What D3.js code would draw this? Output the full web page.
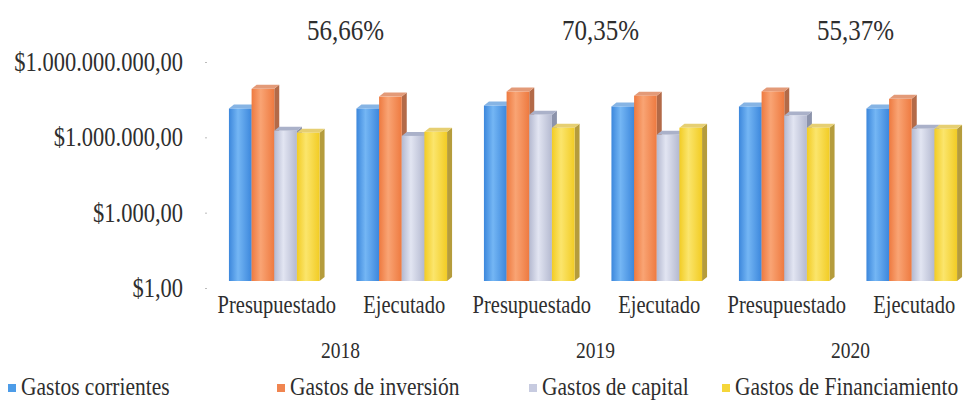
<!DOCTYPE html>
<html>
<head>
<meta charset="utf-8">
<script src="https://cdn.jsdelivr.net/npm/d3@7"></script>
<style>
  html, body { margin: 0; padding: 0; background: #fff; }
  svg { display: block; }
  svg text { font-family: "Liberation Serif", "Times New Roman", serif !important; fill: #2e2e2e; }
</style>
</head>
<body>
<svg id="chart" width="975" height="409"></svg>
<script>
// Gastos por vigencia: presupuestado vs. ejecutado (escala logarítmica)
const years = ["2018", "2019", "2020"];
const stages = ["Presupuestado", "Ejecutado"];
const seriesNames = ["Gastos corrientes", "Gastos de inversión", "Gastos de capital", "Gastos de Financiamiento"];

// one value per year/stage pair: 2018 P, 2018 E, 2019 P, 2019 E, 2020 P, 2020 E
const gastosCorrientes      = [7.4e6, 7.4e6, 9.7e6, 8.9e6, 8.9e6, 7.4e6];
const gastosInversion       = [4.5e7, 2.2e7, 3.5e7, 2.4e7, 3.55e7, 1.8e7];
const gastosCapital         = [9.6e5, 6.0e5, 4.2e6, 6.6e5, 3.9e6, 1.15e6];
const gastosFinanciamiento  = [8.0e5, 8.8e5, 1.27e6, 1.27e6, 1.27e6, 1.15e6];

const ejecucion = ["56,66%", "70,35%", "55,37%"];
const yTicks = [1, 1e3, 1e6, 1e9];

const seriesValues = [gastosCorrientes, gastosInversion, gastosCapital, gastosFinanciamiento];

// palette: [dark edge, light centre, top face, side face, legend]
const palette = [
  ["#3c87dc", "#74b6f4", "#86b4e4", "#3a74b8", "#4d9ce8"],
  ["#ee7a40", "#f9a474", "#e39a78", "#b36a48", "#f08550"],
  ["#b4b9d0", "#e2e5f2", "#aab1c9", "#8c93ab", "#c7cbe0"],
  ["#f2cc24", "#fbe56c", "#e6cf72", "#b59c3c", "#f5d63a"]
];
const textStretch = 1.18;   // tall, narrow lettering

const groups = [];
years.forEach(y => stages.forEach(s => groups.push(y + "|" + s)));

const svg = d3.select("#chart");
const defs = svg.append("defs");
palette.forEach((p, i) => {
  const g = defs.append("linearGradient").attr("id", "grad" + i)
    .attr("x1", "0%").attr("x2", "100%").attr("y1", "0%").attr("y2", "0%");
  g.append("stop").attr("offset", "0%").attr("stop-color", p[0]);
  g.append("stop").attr("offset", "40%").attr("stop-color", p[1]);
  g.append("stop").attr("offset", "100%").attr("stop-color", p[0]);
});

const x0 = d3.scaleBand().domain(groups).range([213, 978]).paddingInner(0.25).paddingOuter(0.125);
const depthX = 5, depthY = 4, lift = 7;
const x1 = d3.scaleBand().domain(d3.range(seriesNames.length)).range([0, x0.bandwidth() - depthX]);
const y = d3.scaleLog().domain([1, 1e9]).range([288, 62]);

// places a text at (x, y) with the vertical stretch applied
const place = (sel, fx, fy) => sel.attr("transform", (d, i) => `translate(${fx(d, i)},${fy(d, i)}) scale(1,${textStretch})`);

// y axis: labels only, with faint tick dots
const fmt = d3.formatLocale({ decimal: ",", thousands: ".", grouping: [3], currency: ["$", ""] }).format("$,.2f");
const yAxis = svg.append("g").attr("transform", "translate(207,0)")
  .call(d3.axisLeft(y).tickValues(yTicks).tickFormat(fmt).tickSize(2).tickPadding(22));
yAxis.attr("font-family", null);
yAxis.select(".domain").remove();
yAxis.selectAll(".tick line").attr("stroke", "#bbb");
yAxis.selectAll(".tick text").attr("font-size", 22.5).attr("fill", "#2e2e2e")
  .attr("transform", `scale(1,${textStretch})`);

// 3D-style columns
const barG = svg.append("g");
groups.forEach((gk, gi) => {
  const gx = x0(gk);
  seriesValues.forEach((vals, si) => {
    const v = vals[gi];
    const left = gx + x1(si);
    const w = x1.bandwidth();
    const top = y(v) - lift;
    const bottom = y(1) - lift;
    const p = palette[si];
    // side face
    barG.append("path")
      .attr("d", `M${left + w},${top} L${left + w + depthX},${top - depthY} L${left + w + depthX},${bottom - depthY} L${left + w},${bottom} Z`)
      .attr("fill", p[3]);
    // top face
    barG.append("path")
      .attr("d", `M${left},${top} L${left + depthX},${top - depthY} L${left + w + depthX},${top - depthY} L${left + w},${top} Z`)
      .attr("fill", p[2]);
    // front face
    barG.append("rect")
      .attr("x", left).attr("y", top)
      .attr("width", w).attr("height", bottom - top)
      .attr("fill", `url(#grad${si})`);
  });
});

// stage labels under each group
svg.append("g").selectAll("text").data(groups).join("text")
  .call(place, d => x0(d) + x0.bandwidth() / 2, () => 313)
  .attr("text-anchor", "middle")
  .attr("font-size", 20.5)
  .text(d => d.split("|")[1]);

// year labels and execution percentage
const yearCenter = yr => {
  const a = x0(yr + "|" + stages[0]);
  const b = x0(yr + "|" + stages[1]) + x0.bandwidth();
  return (a + b) / 2;
};
svg.append("g").selectAll("text").data(years).join("text")
  .call(place, d => yearCenter(d), () => 358)
  .attr("text-anchor", "middle")
  .attr("font-size", 19.5)
  .text(d => d);

svg.append("g").selectAll("text").data(years).join("text")
  .call(place, d => yearCenter(d) + 5, () => 40)
  .attr("text-anchor", "middle")
  .attr("font-size", 25)
  .text((d, i) => ejecucion[i]);

// legend
const legendX = [8, 277, 529, 722];
const legend = svg.append("g").selectAll("g").data(seriesNames).join("g")
  .attr("transform", (d, i) => `translate(${legendX[i]},0)`);
legend.append("rect")
  .attr("x", 0).attr("y", 384).attr("width", 8).attr("height", 8)
  .attr("fill", (d, i) => palette[i][4]);
legend.append("text")
  .call(place, () => 13, () => 395)
  .attr("font-size", 21.5)
  .text(d => d);
</script>
</body>
</html>
